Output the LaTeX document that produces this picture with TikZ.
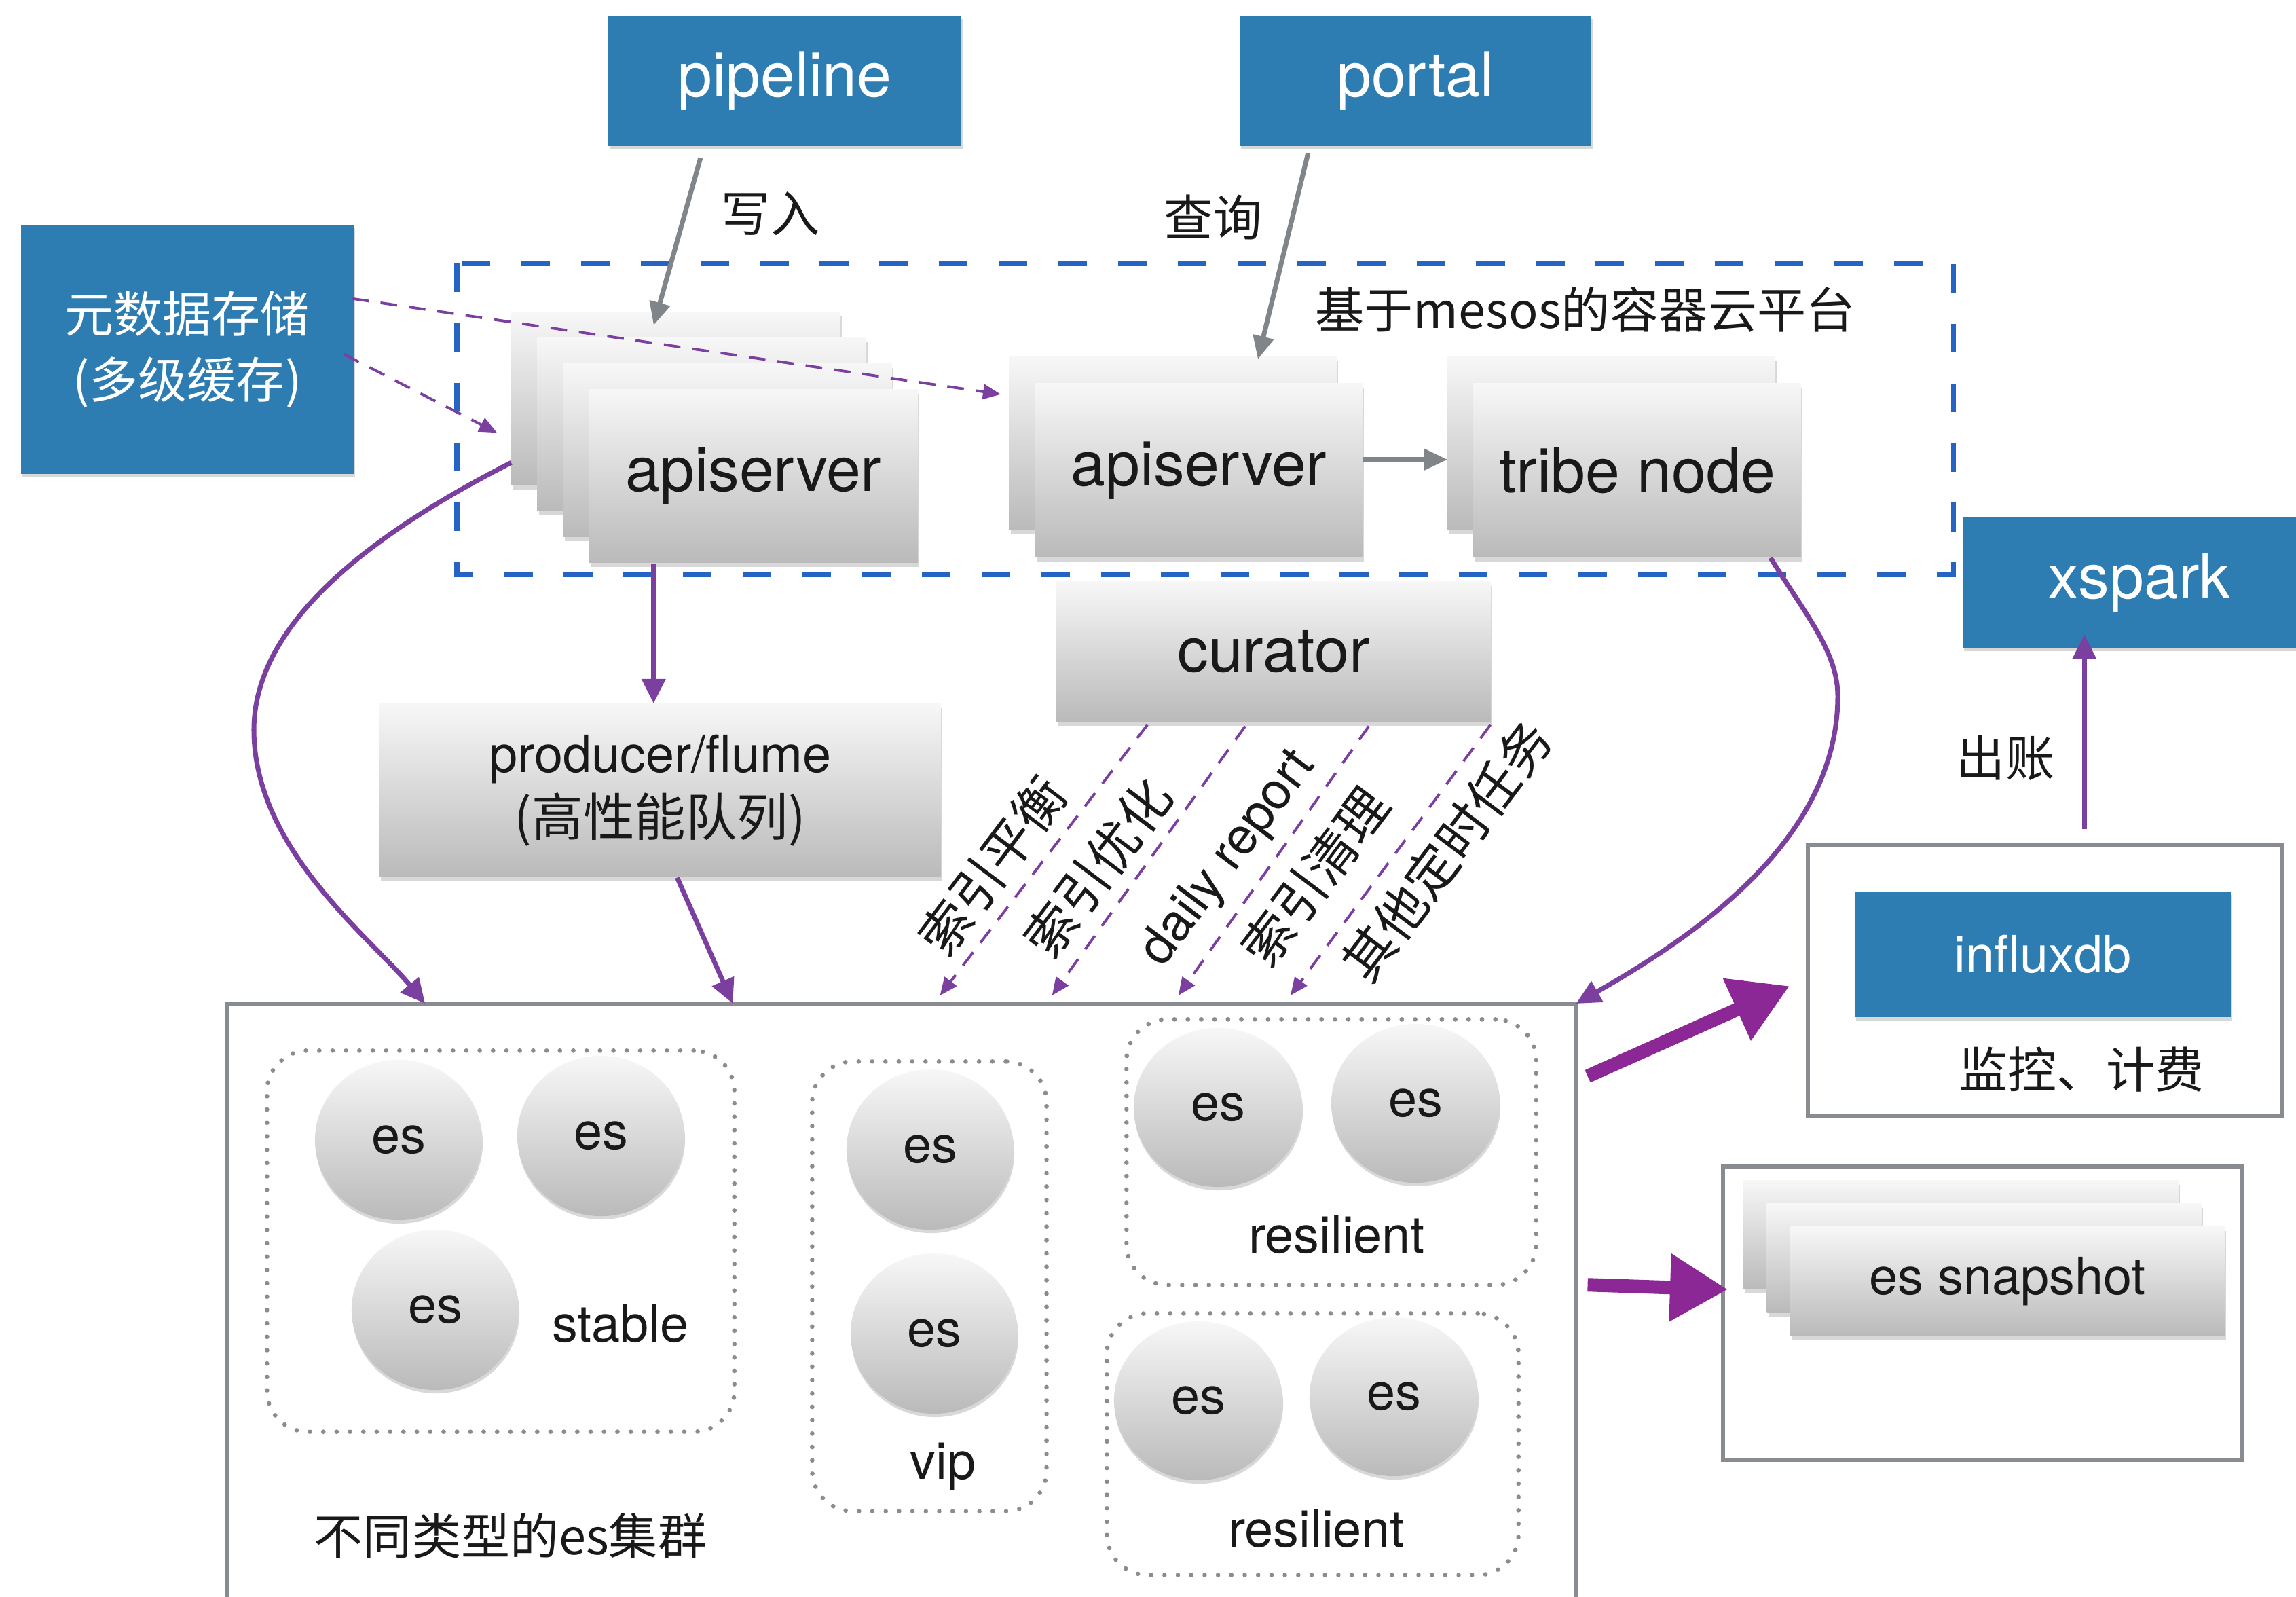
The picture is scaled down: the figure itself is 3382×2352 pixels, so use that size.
\documentclass[tikz,border=0pt]{standalone}
\usepackage{fontspec}
\setmainfont{TeX Gyre Heros}
\newfontfamily\cjk{Noto Sans CJK SC}
\usetikzlibrary{arrows.meta,shadows,shapes.geometric,calc}

\definecolor{boxblue}{RGB}{46,125,178}
\definecolor{dashblue}{RGB}{38,100,196}
\definecolor{vio}{RGB}{123,63,160}
\definecolor{brushc}{RGB}{140,40,150}
\definecolor{lgray}{RGB}{136,139,143}
\definecolor{agray}{RGB}{128,133,138}
\definecolor{ctop}{RGB}{247,247,247}
\definecolor{cbot}{RGB}{186,186,186}
\definecolor{dotc}{RGB}{140,140,140}

\newcommand\fbig{\fontsize{26pt}{31pt}\selectfont}
\newcommand\fmid{\fontsize{21.5pt}{26.5pt}\selectfont}
\newcommand\fcjk{\fontsize{20.5pt}{27.6pt}\selectfont\cjk}

\begin{document}
\begin{tikzpicture}[x=0.01cm,y=-0.01cm,
  card/.style={rectangle, anchor=north west, inner sep=0pt, top color=ctop, bottom color=cbot,
    drop shadow={shadow xshift=0.02cm, shadow yshift=-0.06cm, opacity=0.3}, text=black!90, font=\fbig},
  bluebox/.style={rectangle, anchor=north west, inner sep=0pt, fill=boxblue, text=white,
    drop shadow={shadow xshift=0.02cm, shadow yshift=-0.05cm, opacity=0.3}, font=\fbig},
  gbox/.style={rectangle, anchor=north west, inner sep=0pt, draw=lgray, line width=1.7pt},
  dotgroup/.style={rectangle, anchor=north west, inner sep=0pt, draw=dotc, line width=1.9pt,
    dash pattern=on 0pt off 5.6pt, line cap=round, rounded corners=0.6cm},
  ball/.style={ellipse, inner sep=0pt, minimum width=2.46cm, minimum height=2.36cm,
    top color=ctop, bottom color=cbot, drop shadow={shadow xshift=0.01cm, shadow yshift=-0.05cm, opacity=0.3},
    text=black!90, font=\fmid},
  lbl/.style={inner sep=0pt, text=black!90},
  rlbl/.style={inner sep=0pt, text=black!90, rotate=53, font=\fmid},
  garrow/.style={draw=agray, line width=2pt, -{Triangle[length=0.34cm,width=0.3cm]}},
  parrow/.style={draw=vio, line width=2pt, -{Triangle[length=0.36cm,width=0.34cm]}},
  pdash/.style={draw=vio, line width=1.1pt, dash pattern=on 7pt off 5pt, -{Triangle[length=0.26cm,width=0.22cm]}},
  brusharrow/.style={draw=brushc, line width=0.2cm, -{Triangle[length=0.85cm,width=0.95cm]}}
]
\path[use as bounding box, fill=white] (0,0) rectangle (3382,2352);

% dashed container
\draw[dashblue, line width=2pt, dash pattern=on 12pt off 13pt] (673,388) rectangle (2877,846);
\node[lbl, font=\fcjk] (mesoslbl) at (2335,456) {基于mesos的容器云平台};

% top blue boxes
\node[bluebox, minimum width=5.20cm, minimum height=1.92cm] (pipeline) at (895,22) {pipeline};
\node[bluebox, minimum width=5.18cm, minimum height=1.92cm] (portal) at (1825,22) {portal};
\node[bluebox, minimum width=4.90cm, minimum height=3.67cm, align=center, font=\fcjk] (meta) at (30,330) {元数据存储\\(多级缓存)};
\node[bluebox, minimum width=4.92cm, minimum height=1.92cm] (xspark) at (2890,761) {\hspace*{0.28cm}xspark};

% left apiserver stack
\node[card, minimum width=4.84cm, minimum height=2.55cm] (a1) at (753,459) {};
\node[card, minimum width=4.84cm, minimum height=2.55cm] (a2) at (791,497) {};
\node[card, minimum width=4.84cm, minimum height=2.55cm] (a3) at (829,535) {};
\node[card, minimum width=4.84cm, minimum height=2.55cm] (a4) at (867,573) {\raisebox{-0.08cm}{apiserver}};

% middle apiserver stack
\node[card, minimum width=4.82cm, minimum height=2.56cm] (m1) at (1486,524) {};
\node[card, minimum width=4.82cm, minimum height=2.56cm] (m2) at (1524,564) {\raisebox{-0.06cm}{apiserver}};

% tribe node stack
\node[card, minimum width=4.82cm, minimum height=2.56cm] (t1) at (2132,524) {};
\node[card, minimum width=4.82cm, minimum height=2.56cm] (t2) at (2170,564) {tribe node};

% curator and producer
\node[card, minimum width=6.40cm, minimum height=2.06cm] (curator) at (1555,856) {curator};
\node[card, minimum width=8.27cm, minimum height=2.55cm, align=center, font=\fmid] (prod) at (558,1036) {producer/flume\\{\cjk (高性能队列)}};

% big es box (open at the bottom edge of the picture)
\node[rectangle, anchor=north west, inner sep=0pt, minimum width=19.85cm, minimum height=8.74cm] (esbox) at (334,1478) {};
\draw[lgray, line width=1.7pt] (esbox.south west) -- (esbox.north west) -- (esbox.north east) -- (esbox.south east);

% es groups
\node[dotgroup, minimum width=6.88cm, minimum height=5.61cm] (gstable) at (390,1544) {};
\node[dotgroup, minimum width=3.45cm, minimum height=6.62cm] (gvip) at (1193,1560) {};
\node[dotgroup, minimum width=6.03cm, minimum height=3.91cm] (gres1) at (1656,1498) {};
\node[dotgroup, minimum width=6.06cm, minimum height=3.85cm] (gres2) at (1627,1931) {};

\node[ball] (s1) at (587,1679) {es};
\node[ball] (s2) at (885,1673) {es};
\node[ball] (s3) at (641,1929) {es};
\node[ball] (v1) at (1370,1693) {es};
\node[ball] (v2) at (1376,1964) {es};
\node[ball, minimum width=2.48cm, minimum height=2.34cm] (r1) at (1794,1631) {es};
\node[ball, minimum width=2.48cm, minimum height=2.34cm] (r2) at (2085,1625) {es};
\node[ball, minimum width=2.48cm, minimum height=2.34cm] (r3) at (1765,2063) {es};
\node[ball, minimum width=2.48cm, minimum height=2.34cm] (r4) at (2053,2057) {es};

\node[lbl, font=\fmid] (stablelbl) at (914,1949) {stable};
\node[lbl, font=\fmid] (viplbl) at (1389,2160) {vip};
\node[lbl, font=\fmid] (res1lbl) at (1969,1818) {resilient};
\node[lbl, font=\fmid] (res2lbl) at (1939,2251) {resilient};
\node[lbl, font=\fcjk] (eslbl) at (752,2262) {不同类型的es集群};

% influxdb
\node[gbox, minimum width=6.99cm, minimum height=4.00cm] (inbox) at (2660,1241) {};
\node[bluebox, minimum width=5.54cm, minimum height=1.85cm, font=\fmid] (influx) at (2731,1312) {influxdb};
\node[lbl, font=\fcjk] (monlbl) at (3066,1575) {监控、计费};

% snapshot
\node[gbox, minimum width=7.65cm, minimum height=4.32cm] (snapbox) at (2535,1715) {};
\node[card, minimum width=6.40cm, minimum height=1.60cm] (sn1) at (2568,1738) {};
\node[card, minimum width=6.40cm, minimum height=1.60cm] (sn2) at (2602,1772) {};
\node[card, minimum width=6.40cm, minimum height=1.60cm, font=\fmid] (sn3) at (2636,1806) {es snapshot};

% gray arrows
\draw[garrow] ([xshift=-1.24cm,yshift=-0.17cm]pipeline.south) -- ([xshift=-0.33cm,yshift=-0.2cm]a1.north);
\node[lbl, font=\fcjk] (wlbl) at (1135,315) {写入};
\draw[garrow] ([xshift=-1.58cm,yshift=-0.1cm]portal.south) -- ([xshift=1.25cm,yshift=-0.05cm]m1.north);
\node[lbl, font=\fcjk] (qlbl) at (1787,320) {查询};
\draw[garrow] ([yshift=0.16cm]m2.east) -- ([yshift=0.16cm]m2.east -| t1.west);

% metadata dashed
\draw[pdash] ([xshift=-0.03cm,yshift=0.745cm]meta.east) -- ([xshift=-0.12cm,yshift=0.72cm]m1.west);
\draw[pdash] ([xshift=-0.15cm,yshift=-0.075cm]meta.east) -- ([xshift=-0.21cm,yshift=-0.5cm]a1.west);

% purple arrows
\draw[parrow] ([xshift=-1.47cm]a4.south) -- ([xshift=-1.47cm]a4.south |- prod.north);
\draw[parrow] ([xshift=0.25cm]prod.south) -- ([xshift=7.45cm]esbox.north west);
\draw[parrow] ([yshift=-0.94cm]a1.west) .. controls (520,800) and (374,930) .. (374,1075)
   .. controls (374,1250) and (545,1380) .. ([xshift=2.92cm]esbox.north west);
\draw[parrow] ([xshift=1.96cm]t2.south) .. controls (2660,906) and (2707,960) .. (2707,1025)
   .. controls (2707,1220) and (2530,1360) .. (esbox.north east);
\draw[parrow] ([xshift=0.575cm,yshift=0.2cm]inbox.north) -- ([xshift=0.575cm,yshift=0.2cm]inbox.north |- xspark.south);
\node[lbl, font=\fcjk] (paylbl) at (2954,1116) {出账};

% curator tasks
\draw[pdash] ([xshift=1.35cm,yshift=-0.04cm]curator.south west) -- ([xshift=10.50cm,yshift=0.12cm]esbox.north west);
\draw[pdash] ([xshift=2.79cm,yshift=-0.06cm]curator.south west) -- ([xshift=12.15cm,yshift=0.12cm]esbox.north west);
\draw[pdash] ([xshift=4.61cm,yshift=-0.06cm]curator.south west) -- ([xshift=14.01cm,yshift=0.12cm]esbox.north west);
\draw[pdash] ([xshift=6.40cm,yshift=-0.04cm]curator.south west) -- ([xshift=15.66cm,yshift=0.12cm]esbox.north west);
\node[rlbl] (t1lbl) at (1462,1275) {\cjk 索引平衡};
\node[rlbl] (t2lbl) at (1617,1278) {\cjk 索引优化};
\node[rlbl] (t3lbl) at (1810,1265) {daily report};
\node[rlbl] (t4lbl) at (1937,1291) {\cjk 索引清理};
\node[rlbl] (t5lbl) at (2131,1253) {\cjk 其他定时任务};

% brush arrows
\draw[brusharrow] ([xshift=0.17cm,yshift=-1.07cm]esbox.north east) -- ([xshift=-0.24cm,yshift=-0.08cm]inbox.west);
\draw[brusharrow] ([xshift=0.17cm,yshift=-4.14cm]esbox.north east) -- ([xshift=0.10cm,yshift=0.35cm]snapbox.west);
\end{tikzpicture}
\end{document}
